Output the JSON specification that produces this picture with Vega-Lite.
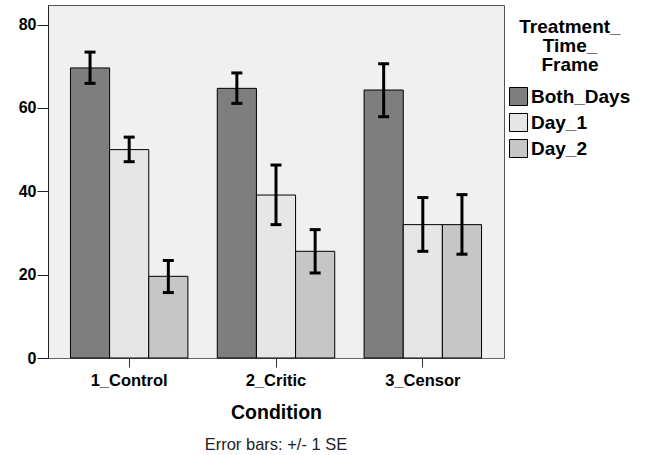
{
  "$schema": "https://vega.github.io/schema/vega-lite/v6.json",
  "autosize": {"type": "none"},
  "padding": {"left": 48, "top": 5, "right": 144, "bottom": 97},
  "width": 456,
  "height": 353,
  "background": "white",
  "view": {"fill": "#f0f0f0", "stroke": "#555555", "strokeWidth": 1},
  "title": {
    "text": "Error bars: +/- 1 SE",
    "orient": "bottom",
    "anchor": "middle",
    "font": "Liberation Sans",
    "fontSize": 16.5,
    "fontWeight": "normal",
    "color": "#222222",
    "offset": 15
  },
  "data": {
    "values": [
      {"Condition": "1_Control", "Treatment": "Both_Days", "mean": 69.6, "lo": 65.9, "hi": 73.4},
      {"Condition": "1_Control", "Treatment": "Day_1", "mean": 50.0, "lo": 47.1, "hi": 53.0},
      {"Condition": "1_Control", "Treatment": "Day_2", "mean": 19.6, "lo": 15.7, "hi": 23.4},
      {"Condition": "2_Critic", "Treatment": "Both_Days", "mean": 64.7, "lo": 61.1, "hi": 68.4},
      {"Condition": "2_Critic", "Treatment": "Day_1", "mean": 39.1, "lo": 32.0, "hi": 46.3},
      {"Condition": "2_Critic", "Treatment": "Day_2", "mean": 25.6, "lo": 20.4, "hi": 30.8},
      {"Condition": "3_Censor", "Treatment": "Both_Days", "mean": 64.3, "lo": 57.9, "hi": 70.6},
      {"Condition": "3_Censor", "Treatment": "Day_1", "mean": 32.0, "lo": 25.6, "hi": 38.5},
      {"Condition": "3_Censor", "Treatment": "Day_2", "mean": 32.0, "lo": 24.9, "hi": 39.2}
    ]
  },
  "encoding": {
    "x": {
      "field": "Condition",
      "type": "nominal",
      "scale": {"paddingInner": 0.2, "paddingOuter": 0.153},
      "axis": {
        "title": "Condition",
        "labelAngle": 0,
        "labelFont": "Liberation Sans",
        "labelFontWeight": "bold",
        "labelFontSize": 16.5,
        "labelColor": "black",
        "labelPadding": 5,
        "tickSize": 9,
        "tickColor": "#333333",
        "domainColor": "#666666",
        "titleFont": "Liberation Sans",
        "titleFontWeight": "bold",
        "titleFontSize": 19.5,
        "titleColor": "black",
        "titlePadding": 15
      }
    },
    "xOffset": {"field": "Treatment", "type": "nominal", "scale": {"paddingInner": 0, "paddingOuter": 0}}
  },
  "layer": [
    {
      "mark": {"type": "bar", "stroke": "black", "strokeWidth": 1, "opacity": 1},
      "encoding": {
        "y": {
          "field": "mean",
          "type": "quantitative",
          "scale": {"domain": [0, 84.7], "nice": false},
          "axis": {
            "title": null,
            "values": [0, 20, 40, 60, 80],
            "grid": false,
            "labelFont": "Liberation Sans",
            "labelFontWeight": "bold",
            "labelFontSize": 16,
            "labelColor": "black",
            "labelPadding": 1,
            "tickSize": 11,
            "tickColor": "#222222",
            "domainColor": "#222222"
          }
        },
        "fill": {
          "field": "Treatment",
          "type": "nominal",
          "scale": {"domain": ["Both_Days", "Day_1", "Day_2"], "range": ["#7e7e7e", "#e6e6e6", "#c6c6c6"]},
          "legend": {
            "title": ["Treatment_", "Time_", "Frame"],
            "orient": "none",
            "legendX": 461,
            "legendY": 13,
            "titleAlign": "center",
            "titleAnchor": "middle",
            "titleFont": "Liberation Sans",
            "titleFontWeight": "bold",
            "titleFontSize": 19,
            "titleColor": "black",
            "titleLineHeight": 19,
            "titlePadding": 12,
            "symbolType": "square",
            "symbolSize": 324,
            "symbolStrokeColor": "black",
            "symbolStrokeWidth": 1,
            "symbolOpacity": 1,
            "labelFont": "Liberation Sans",
            "labelFontWeight": "bold",
            "labelFontSize": 19,
            "labelColor": "black",
            "labelOffset": 3,
            "rowPadding": 3
          }
        }
      }
    },
    {
      "mark": {"type": "rule", "color": "black", "strokeWidth": 3},
      "encoding": {
        "y": {"field": "lo", "type": "quantitative"},
        "y2": {"field": "hi"}
      }
    },
    {
      "mark": {"type": "tick", "color": "black", "thickness": 3, "size": 11, "opacity": 1},
      "encoding": {"y": {"field": "lo", "type": "quantitative"}}
    },
    {
      "mark": {"type": "tick", "color": "black", "thickness": 3, "size": 11, "opacity": 1},
      "encoding": {"y": {"field": "hi", "type": "quantitative"}}
    }
  ]
}
